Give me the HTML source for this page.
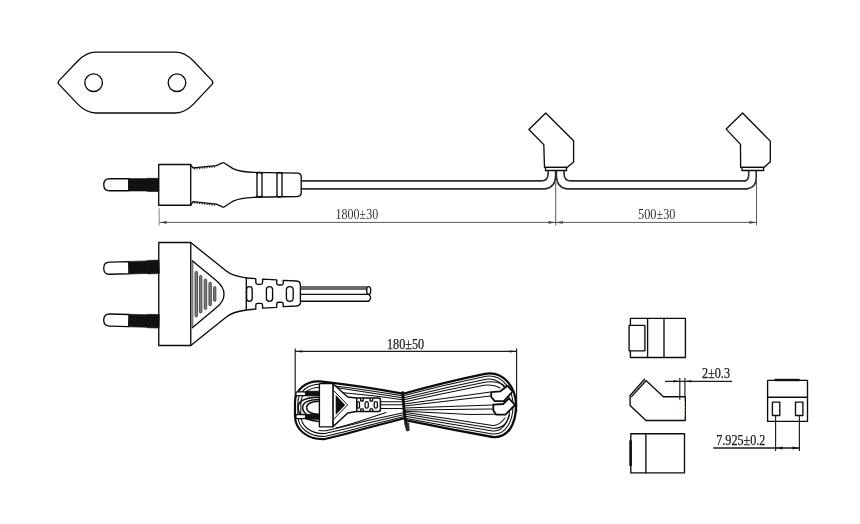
<!DOCTYPE html>
<html>
<head>
<meta charset="utf-8">
<title>Power cord drawing</title>
<style>
html,body{margin:0;padding:0;background:#fff;}
body{width:860px;height:524px;overflow:hidden;font-family:"Liberation Serif",serif;}
svg{display:block;}
.o{fill:none;stroke:#0c0c0c;stroke-width:1.35;stroke-linejoin:round;stroke-linecap:round;}
.of{fill:#fff;stroke:#0c0c0c;stroke-width:1.35;stroke-linejoin:round;stroke-linecap:round;}
.k{fill:#111;stroke:#111;stroke-width:0.6;}
.d{fill:none;stroke:#484848;stroke-width:0.9;}
.d2{fill:none;stroke:#1c1c1c;stroke-width:1.15;}
.a{fill:#444;stroke:none;}
.a2{fill:#1c1c1c;stroke:none;}
text{font-family:"Liberation Serif",serif;fill:#333;}
svg{will-change:transform;opacity:0.999;}
</style>
</head>
<body>
<svg width="860" height="524" viewBox="0 0 860 524">
<rect width="860" height="524" fill="#fff"/>

<!-- SOCKET FACE -->
<g id="socket">
<path class="o" d="M59,80.6 L77.5,61.2 Q86.2,52.1 96,52.1 H175.5 Q185,52.1 193.7,61.2 L212,80.6 Q213.7,82.5 212,84.4 L193.7,103.9 Q185,113 175.5,113 H96 Q86.2,113 77.5,103.9 L59,84.4 Q57.3,82.5 59,80.6 Z"/>
<circle class="o" cx="93.6" cy="82.7" r="8.8"/>
<circle class="o" cx="177" cy="82.7" r="8.8"/>
</g>

<!-- SIDE VIEW PLUG -->
<g id="sideplug">
<path class="o" d="M128.75,178.75 H109.5 Q103.75,178.75 103.75,184.75 Q103.75,190.75 109.5,190.75 H128.75 Z"/>
<rect class="k" x="128.9" y="178.7" width="19" height="12.3"/><rect class="k" x="147.6" y="178.2" width="11.2" height="13.3"/>
<rect class="o" x="158.7" y="164.5" width="32" height="40.7"/>
<path class="o" d="M190.7,164.8 L193,167.9 L216.3,165.6 L222.3,162.9 Q223.3,162.4 224.3,163 L233,168.6 Q240,172 254,172.4 L297.5,173.1 Q301.25,173.3 301.25,177 V192.6 Q301.25,196.3 297.5,196.5 L254,197.3 Q240,197.8 233,201.2 L224.3,206.8 Q223.3,207.4 222.3,206.9 L216.3,204.2 L193,201.6 L190.7,205"/>
<path d="M194,168.7 L216,166.5" stroke="#222" stroke-width="1.8" stroke-dasharray="1.2 1.3" fill="none"/>
<path d="M194,202.6 L216,205" stroke="#222" stroke-width="1.8" stroke-dasharray="1.2 1.3" fill="none"/>
<path class="o" d="M257,173.5 V196 M262,173.5 V196 M277,173.5 V196 M282,173.5 V196"/>
<path class="o" d="M257,173.5 Q259.5,171.5 262,173.5 M257,196 Q259.5,198 262,196 M277,173.5 Q279.5,171.5 282,173.5 M277,196 Q279.5,198 282,196"/>
</g>

<!-- MAIN CABLE + CONNECTORS -->
<g id="cable">
<path class="o" style="stroke:#2e2e2e;stroke-width:1.6" d="M301.25,180.9 H541 Q548.1,180.9 548.1,174 V170.5"/>
<path class="o" style="stroke:#2e2e2e;stroke-width:1.6" d="M301.25,188.9 H545 Q555.4,187.5 555.6,176 V170.5"/>
<path class="o" style="stroke:#2e2e2e;stroke-width:1.6" d="M745,180.9 H571 Q564.1,180.9 564.1,174 V170.5"/>
<path class="o" style="stroke:#2e2e2e;stroke-width:1.6" d="M747,188.9 H567 Q556.6,187.5 556.4,176 V170.5"/>
<path class="o" style="stroke:#2e2e2e;stroke-width:1.6" d="M745,180.9 Q748.7,180.2 748.7,175 V170.5"/>
<path class="o" style="stroke:#2e2e2e;stroke-width:1.6" d="M747,188.9 Q756.2,187.5 756.2,178 V170.5"/>
<!-- connector 1 -->
<path class="of" d="M545.7,113.1 L528.9,129.5 L543.8,144.6 L544.5,167.3 H567.3 L573.6,162 V140.8 Z"/>
<rect class="of" x="545.5" y="167.4" width="21" height="3.1"/>
<!-- connector 2 -->
<path class="of" d="M742.6,113 L726.2,129.1 L740.5,144.4 L740.6,167.4 H764 L770.3,161.7 V141.1 Z"/>
<rect class="of" x="742" y="167.4" width="21.6" height="3.1"/>
</g>

<!-- DIMENSIONS TOP -->
<g id="dimtop">
<path class="d" style="stroke:#999;stroke-width:1.2" d="M159.2,208.2 V225.5"/><path class="d" d="M555.7,182 V225.3 M756.5,180 V225.3"/>
<path class="d" d="M159.5,222.4 H756.5"/>
<path class="a" d="M159.5,222.4 l7.2,-1.3 v2.6z M555.7,222.4 l-7.2,-1.3 v2.6z M555.7,222.4 l7.2,-1.3 v2.6z M756.5,222.4 l-7.2,-1.3 v2.6z"/>
<text x="335.6" y="218.9" font-size="14.5" textLength="42.6" lengthAdjust="spacingAndGlyphs">1800±30</text>
<text x="638" y="218.9" font-size="14.5" textLength="37.4" lengthAdjust="spacingAndGlyphs">500±30</text>
</g>

<!-- FRONT VIEW PLUG -->
<g id="frontplug">
<g transform="rotate(-1.6 104 268.4)"><path class="o" d="M128.9,262.34999999999997 H109.7 Q103.7,262.34999999999997 103.7,268.4 Q103.7,274.45 109.7,274.45 H128.9 Z"/><rect class="k" x="128.9" y="262.09999999999997" width="19" height="12.6"/><rect class="k" x="147.6" y="261.65" width="11.6" height="13.5"/></g>
<g transform="rotate(1.5 104 319.9)"><path class="o" d="M128.9,313.84999999999997 H109.7 Q103.7,313.84999999999997 103.7,319.9 Q103.7,325.95 109.7,325.95 H128.9 Z"/><rect class="k" x="128.9" y="313.59999999999997" width="19" height="12.6"/><rect class="k" x="147.6" y="313.15" width="11.6" height="13.5"/></g>
<rect class="o" x="158.75" y="242.5" width="32" height="103"/>
<path class="o" d="M190.75,242.5 L226,270.8 Q232,276 246.3,277.9 V310 Q232,312 226,317.2 L190.75,345.5"/>
<rect x="191.3" y="261.5" width="2.1" height="65.5" fill="#7a7a7a"/>
<path class="o" d="M192.3,260.7 L216.5,280.8 C222,285.5 224,290 224,294.2 C224,298.4 222,303 216.5,307.6 L192.3,327.7"/>
<g fill="#808080" stroke="#222" stroke-width="0.7">
<rect x="195" y="271.3" width="2.5" height="45.7" rx="1.25"/>
<rect x="199.4" y="275.3" width="2.5" height="37.7" rx="1.25"/>
<rect x="204.2" y="279" width="2.5" height="30.5" rx="1.25"/>
<rect x="208.9" y="282.2" width="2.5" height="23.6" rx="1.25"/>
<rect x="213.5" y="286.5" width="2.4" height="14.9" rx="1.2"/>
</g>
<!-- strain relief -->
<path class="o" d="M246.3,278 L255.8,278.7 V282.5 Q255.8,284.3 257.6,284.3 H260.8 Q262.6,284.3 262.6,282.5 V279.2 L276.7,279.9 V283.2 Q276.7,285 278.5,285 H281.4 Q283.2,285 283.2,283.2 V280.3 L296.5,281 Q300.4,281.3 300.4,285 V302.5 Q300.4,305.6 296.5,306 L283.2,306.6 V304 Q283.2,302.2 281.4,302.2 H278.5 Q276.7,302.2 276.7,304 V307.3 L262.6,308.2 V305.2 Q262.6,303.4 260.8,303.4 H257.6 Q255.8,303.4 255.8,305.2 V309 L246.3,310"/>
<rect class="o" x="246.6" y="286.6" width="5.6" height="14.8" rx="2.8"/>
<rect class="o" x="266.4" y="286.6" width="6.2" height="14.8" rx="3.1"/>
<rect class="o" x="286.4" y="286.6" width="6.8" height="14.8" rx="3.4"/>
<!-- cable stub -->
<path d="M300.8,288 H367" stroke="#6a6a6a" stroke-width="3.8" fill="none"/>
<path class="o" d="M300.6,294.4 H368.2 M300.6,301.2 H368.6"/>
<ellipse class="of" cx="368.7" cy="290.5" rx="2" ry="3.9"/>
<path class="o" d="M368.8,294.4 Q372.6,297.8 368.6,301.2"/>
</g>

<!-- COIL -->
<g id="coil">
<path class="d2" d="M295.2,348.4 V400 M516.6,348.4 V412 M295.2,351.4 H516.6"/>
<path class="a2" d="M295.2,351.4 l7,-1.2 v2.4z M516.6,351.4 l-7,-1.2 v2.4z"/>
<text x="387" y="348.5" font-size="14" textLength="37.2" style="fill:#1a1a1a;stroke:#1a1a1a;stroke-width:0.25" lengthAdjust="spacingAndGlyphs">180±50</text>
<!-- left loop strands -->
<g fill="none" stroke="#0c0c0c" stroke-linecap="round" stroke-linejoin="round">
<path stroke-width="2.2" d="M402.5,393.7 Q365,386.5 320,381.4 C306,380.5 295,390 295,402 V416 C295,430 308,439.6 324,439.2 Q347,434 368,427.8 L404.5,418.3"/>
<path stroke-width="1.05" d="M402.5,395.8 Q365,389.3 322,384.4 C308,383.6 297.9,392 297.9,403 V415.5 C297.9,428 309,436.6 324.5,436.4 Q347,431.4 368,425.4 L404.5,416.4"/>
<path stroke-width="1.05" d="M402.5,397.8 Q365,392.2 335.5,387.6 M319,387.3 C308,387.8 300.8,394 300.8,404 V415 C300.8,426 310,433.8 325,433.6 Q347,428.8 368,423 L404.5,414.5"/>
<path stroke-width="1.05" d="M402.5,399.8 Q370,395.2 341,392.6 M319,430.4 Q322,430.9 326,430.8 Q347,426.3 368,420.6 L404.5,412.6"/>
<path stroke-width="1.05" d="M380.4,401.7 H403 M380.4,404.8 H403 M380.4,408.4 H403.5 M336,428 Q350,424.4 368,418.4 L386,412.5"/>
<!-- arcs between pins -->
<path stroke-width="1.5" d="M319,397.2 C303,397.5 298,402 298,407.5 C298,414 304,420 319,421.5"/>
<path stroke-width="1.5" d="M319,399.4 C307,399.6 302.6,403.5 302.6,407.6 C302.6,412.5 308,417.5 319,418.6"/>
<path stroke-width="1.4" d="M319,401.2 C310,401.6 306.6,404.5 306.6,407.6 C306.6,411 310,414 319,414.5"/>
</g>
<!-- right loop strands -->
<g fill="none" stroke="#0c0c0c" stroke-linecap="round" stroke-linejoin="round">
<path stroke-width="2.3" d="M404,393.5 Q445,382 485,373.8 C504,370.5 516,388 516,405.5 C516,424 508,438.5 492.7,437 Q450,429.5 405.5,420.2"/>
<path stroke-width="1.05" d="M404,395.6 Q445,384.7 486,376.3 C502,373.8 513,389.5 513,405.3 C513,422 505.5,435 492.7,434 Q450,426.8 405.5,418.2"/>
<path stroke-width="1.05" d="M404,397.7 Q445,387.4 486,379.2 C500,377 510,390.5 510,405.2 C510,420 503.5,432 492.7,431 Q450,424 405.5,416.2"/>
<path stroke-width="1.05" d="M404,399.8 Q445,390.2 486,382.1 C497,380.8 504,384 507.5,389 M509.5,415 C507,424 502,429 492.7,428.2 Q450,421.3 405.5,414.3"/>
<path stroke-width="1.05" d="M404,401.9 Q445,393 484,385.2 Q494,384.3 500,388 M505,418 C501,423.5 498,425.6 492.7,425.4 Q450,418.6 405.5,412.4"/>
<path stroke-width="1.05" d="M404.5,403.9 L490.5,392 M404.5,405.9 L490.2,396 M404.5,407.9 L492.7,405 M404.5,409.9 L492.7,409 M405,411.2 L470,414.5 L494.5,414.3"/>
</g>
<!-- connectors in coil -->
<path style="stroke-width:1.8" class="of" d="M491.2,392.2 L500.4,391.3 L507.5,385.7 L512.6,391.5 L503.9,401.2 H494.8 L491.2,397 Z"/>
<path style="stroke-width:1.8" class="of" d="M493.3,404.6 L503.2,404 L508.9,398.4 L515,405 L505.4,414.7 H496.2 L493.3,410.4 Z"/>
<!-- plug in coil -->
<rect class="of" x="295.8" y="391.8" width="10" height="3.9" rx="1.5"/>
<rect class="k" x="305.7" y="391.1" width="13.7" height="4.9"/>
<rect class="of" x="295.8" y="414.5" width="10" height="4.1" rx="1.5"/>
<rect class="k" x="305.7" y="414.1" width="13.7" height="5.2"/>
<path class="of" style="stroke-width:1.5" d="M332.9,383.8 L347.8,397 L356.2,398.1 H378.5 Q380.4,398.1 380.4,400 V409.6 Q380.4,411.5 378.5,411.5 H356.2 L347.8,413 L332.9,426.8 Z"/>
<rect class="of" x="319.4" y="383.6" width="13.5" height="43.2"/>
<path style="stroke-width:1" class="o" d="M334.3,391.2 L347.6,404.9 L334.3,418.6"/>
<path class="k" d="M336,395.6 L344.9,404.9 L336,414.3 Z"/>
<path class="o" d="M356.7,398.4 V411.2"/>
<g fill="none" stroke="#0c0c0c" stroke-width="1.3">
<rect x="356.9" y="401.6" width="2.6" height="6.6" rx="1.3"/>
<rect x="365.1" y="401.6" width="3.2" height="6.6" rx="1.6"/>
<rect x="374.2" y="401.6" width="3.2" height="6.6" rx="1.6"/>
<path d="M360.6,398.2 V400.4 Q360.6,401 361.3,401 H362.6 Q363.3,401 363.3,400.4 V398.2 M360.6,411.4 V409.4 Q360.6,408.8 361.3,408.8 H362.6 Q363.3,408.8 363.3,409.4 V411.4 M370,398.2 V400.4 Q370,401 370.7,401 H372 Q372.7,401 372.7,400.4 V398.2 M370,411.4 V409.4 Q370,408.8 370.7,408.8 H372 Q372.7,408.8 372.7,409.4 V411.4"/>
</g>
<!-- tie -->
<path d="M402.6,392.6 L403.4,402 L404,410 L405.2,419 L406.6,426" stroke="#0c0c0c" stroke-width="2.8" fill="none" stroke-linecap="round"/>
<path d="M404.6,423.4 L408.6,422.8 L409.2,430.4 L406.6,431 L405.6,427 Z" fill="#2a2a2a" stroke="#222" stroke-width="0.8"/>
</g>

<!-- CONNECTOR VIEWS -->
<g id="views">
<rect class="o" x="630.4" y="318.4" width="55" height="39.1"/>
<path class="o" d="M647.6,318.4 V357.5 M664,318.4 V357.5"/>
<rect class="of" x="629.1" y="325.4" width="15.8" height="25.4"/>

<path class="o" d="M644.5,379.3 L630.1,395.5 V405.4 L646,420.5 H685.3 V396.7 H663.4 L646,380.6"/>
<path class="o" d="M631.6,396.6 L645.5,381.2"/>
<rect x="680.2" y="402.5" width="4.4" height="13.5" fill="none" stroke="#ecebc8" stroke-width="0.9" stroke-dasharray="2.2 1.6"/>
<path class="d2" d="M679.8,378 V399.7 M684.9,378 V396.3 M665.1,381.3 H732.1"/>
<path class="a2" d="M679.8,381.3 l-6.5,-1.2 v2.4z M684.9,381.3 l6.5,-1.2 v2.4z"/>
<text x="702" y="378.2" font-size="14.5" textLength="28" style="fill:#1a1a1a;stroke:#1a1a1a;stroke-width:0.25" lengthAdjust="spacingAndGlyphs">2±0.3</text>

<rect class="o" x="630.8" y="433.7" width="53.7" height="39.1"/>
<path class="o" d="M645.9,433.7 V472.8"/>
<path d="M630.6,440.3 V465.9" stroke="#111" stroke-width="2.6" fill="none"/>

<rect class="o" x="767.6" y="380.4" width="39.9" height="41"/>
<path class="o" d="M767.6,397.2 H807.5"/>
<path d="M774.5,380 H799.7" stroke="#111" stroke-width="2.4" fill="none"/>
<rect class="o" x="772.4" y="402.1" width="7.4" height="13.4"/>
<rect class="o" x="795.5" y="402.1" width="7.4" height="13.4"/>
<path class="d2" d="M775.6,415.8 V450.9 M799.4,415.8 V450.9"/><path style="stroke-width:1.5" class="d2" d="M713.3,448 H799.4"/>
<path class="a2" d="M775.6,448 l7,-1.4 v2.8z M799.4,448 l-7,-1.4 v2.8z"/>
<text x="716.2" y="444.7" font-size="14.5" textLength="49.2" style="fill:#1a1a1a;stroke:#1a1a1a;stroke-width:0.25" lengthAdjust="spacingAndGlyphs">7.925±0.2</text>
</g>
</svg>
</body>
</html>
